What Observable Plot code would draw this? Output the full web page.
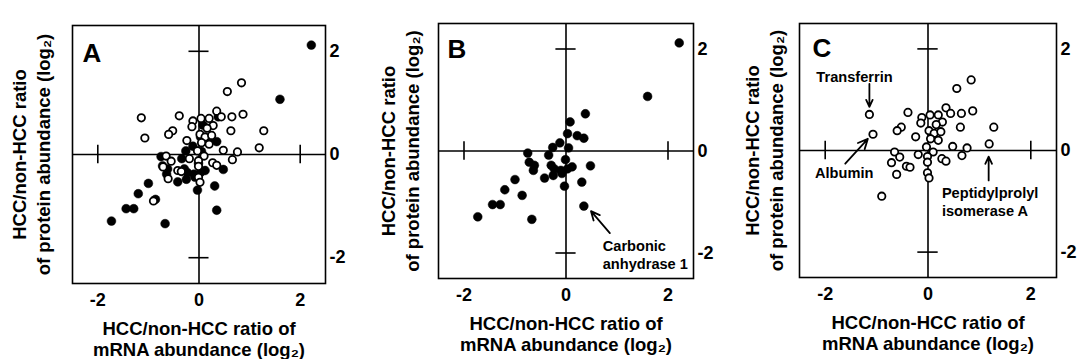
<!DOCTYPE html>
<html><head><meta charset="utf-8">
<script src="https://cdn.jsdelivr.net/npm/d3@7"></script>
<script src="https://cdn.jsdelivr.net/npm/@observablehq/plot@0.6"></script>
<style>
body{margin:0;background:#fff;}
#wrap{position:relative;width:1077px;height:359px;overflow:hidden;}
.panel{position:absolute;top:0;}
</style></head><body><div id="wrap"></div>
<script>
// ---------- data ----------
const panelLabels = ["A", "B", "C"];
const tickValues = [-2, 0, 2];
const sideTicks = [-2, 2];
const axisDomain = [-2.5, 2.5];
const xTitle = "HCC/non-HCC ratio of\nmRNA abundance (log\u2082)";
const yTitle = "HCC/non-HCC ratio\nof protein abundance (log\u2082)";

// filled circles (panel B, also in A): [mRNA log2, protein log2]
const filledPoints = [
  [2.22, 2.12], [1.60, 1.07], [0.38, 0.73], [0.08, 0.57], [0.03, 0.34],
  [0.22, 0.30], [0.35, 0.25], [-0.12, 0.16], [-0.26, 0.07], [0.05, 0.06],
  [-0.75, -0.04], [-0.34, -0.08], [-0.01, -0.17], [-0.72, -0.22], [-0.62, -0.28],
  [-0.29, -0.28], [-0.64, -0.38], [0.12, -0.31], [0.48, -0.29], [-0.23, -0.35],
  [-0.10, -0.38], [-0.42, -0.53], [-0.25, -0.48], [-0.08, -0.44], [0.03, -0.35],
  [0.31, -0.61], [-0.03, -0.69], [-1.00, -0.56], [-1.20, -0.76], [-0.86, -0.87],
  [-1.44, -1.05], [-1.29, -1.05], [0.35, -1.08], [-1.73, -1.29], [-0.67, -1.34]
];
// open circles (panel C, also in A)
const openPoints = [
  [0.84, 1.39], [0.56, 1.22], [-1.14, 0.71], [-1.07, 0.32], [-0.39, 0.75],
  [0.35, 0.84], [0.44, 0.73], [0.65, 0.73], [0.87, 0.78], [-0.12, 0.65],
  [0.04, 0.70], [0.20, 0.70], [-0.14, 0.54], [0.28, 0.56], [0.16, 0.51],
  [0.02, 0.39], [0.12, 0.34], [0.25, 0.37], [-0.52, 0.46], [-0.60, 0.39],
  [-0.24, 0.27], [0.20, 0.20], [0.05, 0.23], [0.63, 0.46], [1.28, 0.46],
  [-0.03, 0.07], [0.10, -0.03], [0.48, 0.08], [0.76, 0.05], [1.19, 0.13],
  [-0.65, -0.03], [-0.55, -0.13], [-0.71, -0.24], [-0.42, -0.31], [-0.35, -0.33],
  [-0.61, -0.47], [-0.19, -0.08], [-0.01, -0.12], [-0.01, -0.23], [0.27, -0.16],
  [0.35, -0.21], [0.66, -0.10], [-0.01, -0.44], [0.02, -0.54], [-0.90, -0.90]
];

// annotations: label text position and arrow (data units)
const notesB = [
  {text: "Carbonic\nanhydrase 1", tx: 0.72, ty: -2.02, anchor: "start", x1: 0.86, y1: -1.61, x2: 0.49, y2: -1.18}
];
const notesC = [
  {text: "Transferrin", tx: -1.43, ty: 1.47, anchor: "middle", x1: -1.14, y1: 1.31, x2: -1.14, y2: 0.86},
  {text: "Albumin", tx: -1.63, ty: -0.43, anchor: "middle", x1: -1.61, y1: -0.26, x2: -1.17, y2: 0.23},
  {text: "Peptidylprolyl\nisomerase A", tx: 0.27, ty: -1.0, anchor: "start", x1: 1.18, y1: -0.59, x2: 1.18, y2: -0.12}
];

// ---------- layout ----------
const FONT = "'Liberation Sans', Arial, Helvetica, sans-serif";
const panelLayout = [
  {left: 0,   mL: 72, mR: 34, mT: 25, mB: 76, ytOff: -42, lx: 10, ly: 18, filled: filledPoints, open: openPoints, notes: []},
  {left: 359, mL: 79, mR: 25, mT: 23, mB: 81, ytOff: -39, lx: 9,  ly: 16, filled: filledPoints, open: [], notes: notesB},
  {left: 718, mL: 81, mR: 21, mT: 23, mB: 82, ytOff: -36, lx: 13, ly: 15, filled: [], open: openPoints, notes: notesC}
];
const halfTick = 0.18;
const fmt = d => d < 0 ? "-" + Math.abs(d) : String(d);
const noteStyle = {x: "tx", y: "ty", text: "text", fontSize: 14.6, fontWeight: "bold", lineHeight: 1.25, fill: "#000"};

const wrap = document.getElementById("wrap");
panelLayout.forEach((p, i) => {
  const chart = Plot.plot({
    width: 359,
    height: 359,
    marginLeft: p.mL, marginRight: p.mR, marginTop: p.mT, marginBottom: p.mB,
    style: {fontFamily: FONT, background: "#fff", color: "#000", overflow: "visible"},
    x: {domain: axisDomain},
    y: {domain: axisDomain},
    marks: [
      Plot.frame({stroke: "#000", strokeWidth: 1.6}),
      Plot.ruleX([0], {stroke: "#000", strokeWidth: 1.6}),
      Plot.ruleY([0], {stroke: "#000", strokeWidth: 1.6}),
      Plot.ruleX(sideTicks, {x: d => d, y1: -halfTick, y2: halfTick, stroke: "#000", strokeWidth: 1.6}),
      Plot.ruleY(sideTicks, {y: d => d, x1: -halfTick * 1.1, x2: halfTick * 1.1, stroke: "#000", strokeWidth: 1.6}),
      Plot.axisX(tickValues, {anchor: "bottom", tickSize: 0, tickPadding: 10, fontSize: 18, fontWeight: "bold", label: null, tickFormat: fmt}),
      Plot.axisY(tickValues, {anchor: "right", tickSize: 0, tickPadding: 4, fontSize: 18, fontWeight: "bold", label: null, textAnchor: "start", tickFormat: fmt}),
      Plot.dot(p.filled, {x: d => d[0], y: d => d[1], r: 4.4, fill: "#000", stroke: "#000", strokeWidth: 0.5}),
      Plot.dot(p.open, {x: d => d[0], y: d => d[1], r: 3.7, fill: "#fff", stroke: "#000", strokeWidth: 1.8}),
      Plot.arrow(p.notes, {x1: "x1", y1: "y1", x2: "x2", y2: "y2", stroke: "#000", strokeWidth: 1.8, headLength: 9, headAngle: 50}),
      Plot.text(p.notes.filter(d => d.anchor === "start"), {...noteStyle, textAnchor: "start"}),
      Plot.text(p.notes.filter(d => d.anchor === "middle"), {...noteStyle, textAnchor: "middle"}),
      Plot.text([panelLabels[i]], {frameAnchor: "top-left", text: d => d, dx: p.lx, dy: p.ly, lineAnchor: "top", textAnchor: "start", fontSize: 26, fontWeight: "bold", fill: "#000"}),
      Plot.text([xTitle], {frameAnchor: "bottom", text: d => d, dy: 55, textAnchor: "middle", lineAnchor: "middle", fontSize: 18.5, fontWeight: "bold", lineHeight: 1.12, fill: "#000"}),
      Plot.text([yTitle], {frameAnchor: "left", text: d => d, dx: p.ytOff, rotate: -90, textAnchor: "middle", lineAnchor: "middle", fontSize: 18.5, fontWeight: "bold", lineHeight: 1.3, fill: "#000"})
    ]
  });
  const div = document.createElement("div");
  div.className = "panel";
  div.style.left = p.left + "px";
  div.appendChild(chart);
  wrap.appendChild(div);
});
</script></body></html>
